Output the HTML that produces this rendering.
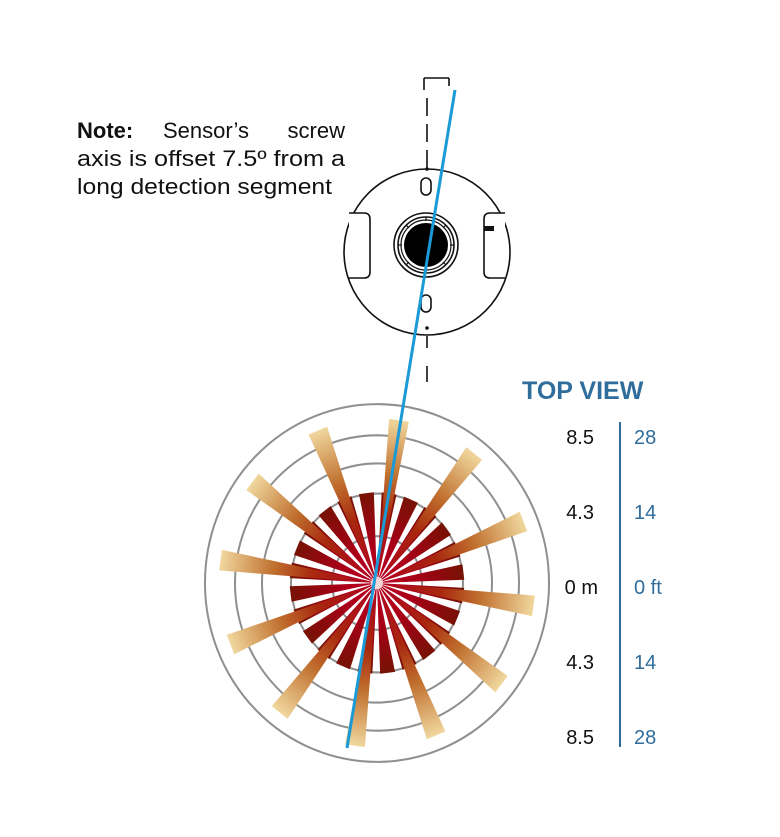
<!DOCTYPE html>
<html><head><meta charset="utf-8"><style>
html,body{margin:0;padding:0;background:#fff;}
svg{display:block;}
text{font-family:"Liberation Sans",Arial,sans-serif;}
</style></head><body>
<svg width="780" height="837" viewBox="0 0 780 837" xmlns="http://www.w3.org/2000/svg">
<defs>
<linearGradient id="lg" gradientUnits="userSpaceOnUse" x1="0" y1="0" x2="0" y2="-160">
<stop offset="0" stop-color="#b00020"/>
<stop offset="0.4" stop-color="#a8280e"/>
<stop offset="0.65" stop-color="#c0702e"/>
<stop offset="1" stop-color="#f2dba2"/>
</linearGradient>
<linearGradient id="sg" gradientUnits="userSpaceOnUse" x1="0" y1="0" x2="0" y2="-86">
<stop offset="0" stop-color="#c00025"/>
<stop offset="0.45" stop-color="#a80018"/>
<stop offset="1" stop-color="#781205"/>
</linearGradient>
</defs>

<!-- note text -->
<text x="77" y="138" font-size="22" fill="#111" font-weight="bold">Note:</text>
<text x="163" y="138" font-size="22" fill="#111">Sensor’s</text>
<text x="345" y="138" font-size="22" fill="#111" text-anchor="end">screw</text>
<text x="77" y="166" font-size="22" fill="#111" textLength="268" lengthAdjust="spacingAndGlyphs">axis is offset 7.5º from a</text>
<text x="77" y="194" font-size="22" fill="#111" textLength="255" lengthAdjust="spacingAndGlyphs">long detection segment</text>

<!-- axis dashed -->
<g stroke="#111" stroke-width="1.6" fill="none">
<path d="M424 78 H449 M424 78 V90 M449 78 V86"/>
<path d="M427 98 V116 M427 124 V142 M427 150 V168 M427 204 V216 M427 284 V296 M427 336 V348 M427 366 V382"/>
</g>

<!-- sensor -->
<g stroke="#111" stroke-width="1.6" fill="#fff">
<circle cx="427" cy="252" r="83"/>
<path d="M349 213 H364 Q370 213 370 219 V272 Q370 278 364 278 H349" />
<path d="M505 213 H490 Q484 213 484 219 V272 Q484 278 490 278 H505" />
<circle cx="426" cy="245" r="32"/>
<circle cx="426" cy="245" r="28"/>
<rect x="421" y="178" width="10" height="17" rx="5"/>
<rect x="421" y="295" width="10" height="17" rx="5"/>
</g>
<rect x="484" y="226" width="10" height="5" fill="#111"/>
<circle cx="426" cy="245" r="25" fill="#fff" stroke="#111" stroke-width="1.2"/>
<circle cx="426" cy="245" r="22" fill="#000"/>
<g stroke="#111" stroke-width="1.2">
<line x1="426" y1="217" x2="426" y2="221"/><line x1="426" y1="269" x2="426" y2="273"/>
<line x1="398" y1="245" x2="402" y2="245"/><line x1="450" y1="245" x2="454" y2="245"/>
<line x1="406" y1="225" x2="409" y2="228"/><line x1="446" y1="225" x2="443" y2="228"/>
<line x1="406" y1="265" x2="409" y2="262"/><line x1="446" y1="265" x2="443" y2="262"/>
</g>
<circle cx="427" cy="169" r="1.8" fill="#111"/>
<circle cx="427" cy="328" r="1.8" fill="#111"/>

<!-- rings -->
<g transform="translate(377,583) scale(1,1.04)" fill="none" stroke="#8f8f8f" stroke-width="2">
<circle r="172"/>
<circle r="142"/>
<circle r="115"/>
<circle r="86"/>
<circle r="45"/>
</g>

<!-- wedges -->
<g transform="translate(377,583) scale(1,1.04)">
<g fill="url(#sg)">
<polygon points="0,0 -7.5,-87 7.5,-87" transform="rotate(8)"/>
<polygon points="0,0 -7.5,-87 7.5,-87" transform="rotate(23)"/>
<polygon points="0,0 -7.5,-87 7.5,-87" transform="rotate(38)"/>
<polygon points="0,0 -7.5,-87 7.5,-87" transform="rotate(53)"/>
<polygon points="0,0 -7.5,-87 7.5,-87" transform="rotate(68)"/>
<polygon points="0,0 -7.5,-87 7.5,-87" transform="rotate(83)"/>
<polygon points="0,0 -7.5,-87 7.5,-87" transform="rotate(98)"/>
<polygon points="0,0 -7.5,-87 7.5,-87" transform="rotate(113)"/>
<polygon points="0,0 -7.5,-87 7.5,-87" transform="rotate(128)"/>
<polygon points="0,0 -7.5,-87 7.5,-87" transform="rotate(143)"/>
<polygon points="0,0 -7.5,-87 7.5,-87" transform="rotate(158)"/>
<polygon points="0,0 -7.5,-87 7.5,-87" transform="rotate(173)"/>
<polygon points="0,0 -7.5,-87 7.5,-87" transform="rotate(188)"/>
<polygon points="0,0 -7.5,-87 7.5,-87" transform="rotate(203)"/>
<polygon points="0,0 -7.5,-87 7.5,-87" transform="rotate(218)"/>
<polygon points="0,0 -7.5,-87 7.5,-87" transform="rotate(233)"/>
<polygon points="0,0 -7.5,-87 7.5,-87" transform="rotate(248)"/>
<polygon points="0,0 -7.5,-87 7.5,-87" transform="rotate(263)"/>
<polygon points="0,0 -7.5,-87 7.5,-87" transform="rotate(278)"/>
<polygon points="0,0 -7.5,-87 7.5,-87" transform="rotate(293)"/>
<polygon points="0,0 -7.5,-87 7.5,-87" transform="rotate(308)"/>
<polygon points="0,0 -7.5,-87 7.5,-87" transform="rotate(323)"/>
<polygon points="0,0 -7.5,-87 7.5,-87" transform="rotate(338)"/>
<polygon points="0,0 -7.5,-87 7.5,-87" transform="rotate(353)"/>
</g>
<g fill="url(#lg)">
<polygon points="0,0 -10,-158 10,-158" transform="rotate(8)"/>
<polygon points="0,0 -10,-158 10,-158" transform="rotate(38)"/>
<polygon points="0,0 -10,-158 10,-158" transform="rotate(68)"/>
<polygon points="0,0 -10,-158 10,-158" transform="rotate(98)"/>
<polygon points="0,0 -10,-158 10,-158" transform="rotate(128)"/>
<polygon points="0,0 -10,-158 10,-158" transform="rotate(158)"/>
<polygon points="0,0 -10,-158 10,-158" transform="rotate(188)"/>
<polygon points="0,0 -10,-158 10,-158" transform="rotate(218)"/>
<polygon points="0,0 -10,-158 10,-158" transform="rotate(248)"/>
<polygon points="0,0 -10,-158 10,-158" transform="rotate(278)"/>
<polygon points="0,0 -10,-158 10,-158" transform="rotate(308)"/>
<polygon points="0,0 -10,-158 10,-158" transform="rotate(338)"/>
</g>
<circle r="6" fill="#f4d6d6"/>
</g>

<!-- blue axis -->
<line x1="455" y1="90" x2="347" y2="748" stroke="#1a9ad6" stroke-width="3"/>

<!-- top view scale -->
<text x="522" y="399" font-size="25" font-weight="bold" fill="#2f6d9c">TOP VIEW</text>
<line x1="620" y1="422" x2="620" y2="747" stroke="#2f6d9c" stroke-width="2"/>
<g font-size="20" fill="#111" text-anchor="end">
<text x="594" y="444">8.5</text>
<text x="594" y="519">4.3</text>
<text x="598" y="594">0 m</text>
<text x="594" y="669">4.3</text>
<text x="594" y="744">8.5</text>
</g>
<g font-size="20" fill="#2f6d9c">
<text x="634" y="444">28</text>
<text x="634" y="519">14</text>
<text x="634" y="594">0 ft</text>
<text x="634" y="669">14</text>
<text x="634" y="744">28</text>
</g>
</svg>
</body></html>
